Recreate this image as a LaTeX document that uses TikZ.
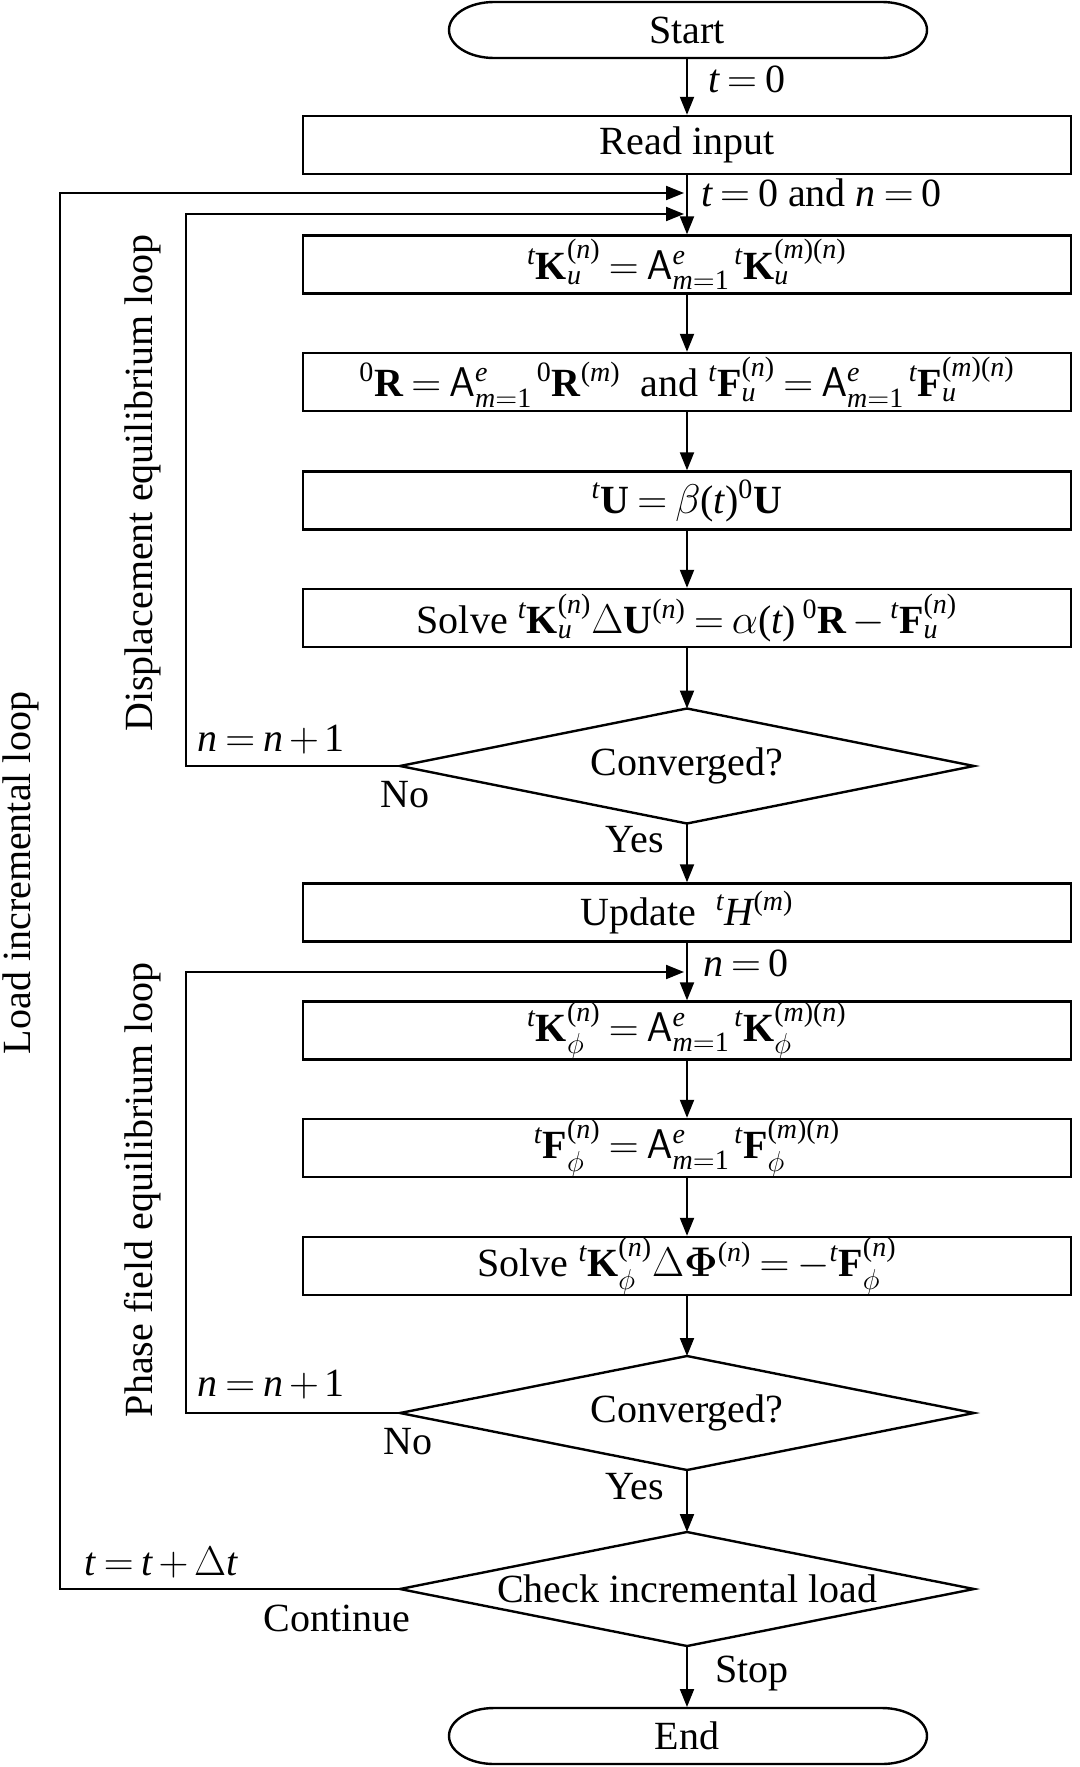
\documentclass[tikz,border=0pt]{standalone}
\usepackage{amsmath}
\usepackage[no-math]{fontspec}
\setmainfont[NFSSFamily=libser]{Liberation Serif}
\DeclareSymbolFont{tlet}{TU}{libser}{m}{it}
\DeclareSymbolFont{tupr}{TU}{libser}{m}{n}
\DeclareMathSymbol{t}{\mathalpha}{tlet}{`t}
\DeclareMathSymbol{n}{\mathalpha}{tlet}{`n}
\DeclareMathSymbol{m}{\mathalpha}{tlet}{`m}
\DeclareMathSymbol{e}{\mathalpha}{tlet}{`e}
\DeclareMathSymbol{u}{\mathalpha}{tlet}{`u}
\DeclareMathSymbol{H}{\mathalpha}{tlet}{`H}
\DeclareMathSymbol{0}{\mathalpha}{tupr}{`0}
\DeclareMathSymbol{1}{\mathalpha}{tupr}{`1}
\DeclareMathSymbol{(}{\mathopen}{tupr}{`(}
\DeclareMathSymbol{)}{\mathclose}{tupr}{`)}
\usetikzlibrary{arrows.meta}
\newcommand{\vK}{\textbf{K}}
\newcommand{\vF}{\textbf{F}}
\newcommand{\vR}{\textbf{R}}
\newcommand{\vU}{\textbf{U}}
\newcommand{\asm}{\mathsf{A}}
\newcommand{\pk}{\mkern2mu}
\newcommand{\tightmath}{\thickmuskip=3.5mu\relax\medmuskip=2.5mu\relax}
\begin{document}
\begin{tikzpicture}[x=0.5pt,y=-0.5pt,
  font=\fontsize{20}{24}\selectfont,
  execute at begin node=\tightmath,
  line width=1pt,
  arr/.style={-{Triangle[length=9pt,width=7pt]}},
  box/.style={draw, line width=1.2pt, minimum width=384pt, minimum height=29pt, inner sep=0pt},
  term/.style={minimum width=239pt, minimum height=28pt, inner sep=0pt},
  lbl/.style={inner sep=0pt},
  side/.style={rotate=90, inner sep=0pt}]
\useasboundingbox (0,0) rectangle (1080,1767);

% terminals
\node[term] (start) at (687,30) {Start};
\draw[line width=1.2pt] (494,2) -- (882,2) arc[start angle=90,end angle=-90,x radius=22.5pt,y radius=14pt]
  -- (494,58) arc[start angle=270,end angle=90,x radius=22.5pt,y radius=14pt] -- cycle;
\node[term] (end) at (687,1736) {End};
\draw[line width=1.2pt] (494,1708) -- (882,1708) arc[start angle=90,end angle=-90,x radius=22.5pt,y radius=14pt]
  -- (494,1764) arc[start angle=270,end angle=90,x radius=22.5pt,y radius=14pt] -- cycle;

% boxes
\node[box] (read) at (687,145) {Read input};
\node[box] (ku) at (687,264.5) {${}^{t}\vK_{u}^{(n)} = \asm_{m=1}^{e}\pk{}^{t}\vK_{u}^{(m)(n)}$};
\node[box] (rf) at (687,382) {${}^{0}\vR = \asm_{m=1}^{e}\pk{}^{0}\vR^{(m)}$\ \ and ${}^{t}\vF_{u}^{(n)} = \asm_{m=1}^{e}\pk{}^{t}\vF_{u}^{(m)(n)}$};
\node[box] (uu) at (687,500.5) {${}^{t}\vU = \beta(t)^{0}\vU$};
\node[box] (sol) at (687,618) {Solve ${}^{t}\vK_{u}^{(n)}\Delta\vU^{(n)} = \alpha(t)\,{}^{0}\vR - {}^{t}\vF_{u}^{(n)}$};
\node[box] (upd) at (687,912.5) {Update\ \ ${}^{t}H^{(m)}$};
\node[box] (kphi) at (687,1030.5) {${}^{t}\vK_{\phi}^{(n)} = \asm_{m=1}^{e}\pk{}^{t}\vK_{\phi}^{(m)(n)}$};
\node[box] (fphi) at (687,1148) {${}^{t}\vF_{\phi}^{(n)} = \asm_{m=1}^{e}\pk{}^{t}\vF_{\phi}^{(m)(n)}$};
\node[box] (solphi) at (687,1266) {Solve ${}^{t}\vK_{\phi}^{(n)}\Delta\mathbf{\Phi}^{(n)} = -{}^{t}\vF_{\phi}^{(n)}$};

% diamonds
\coordinate (d1n) at (687,708.5); \coordinate (d1s) at (687,823.5);
\coordinate (d1w) at (400,766);   \coordinate (d1e) at (974,766);
\draw[line width=1.2pt] (d1w) -- (d1n) -- (d1e) -- (d1s) -- cycle;
\node[lbl] (d1) at (687,766) {Converged?};

\coordinate (d2n) at (687,1356); \coordinate (d2s) at (687,1470);
\coordinate (d2w) at (400,1413); \coordinate (d2e) at (974,1413);
\draw[line width=1.2pt] (d2w) -- (d2n) -- (d2e) -- (d2s) -- cycle;
\node[lbl] (d2) at (687,1413) {Converged?};

\coordinate (d3n) at (687,1532); \coordinate (d3s) at (687,1646);
\coordinate (d3w) at (400,1589); \coordinate (d3e) at (974,1589);
\draw[line width=1.2pt] (d3w) -- (d3n) -- (d3e) -- (d3s) -- cycle;
\node[lbl] (d3) at (687,1589) {Check incremental load};

% main flow
\draw[arr] (start.south) -- (read.north);
\draw[arr] (read.south) -- (ku.north);
\draw[arr] (ku.south) -- (rf.north);
\draw[arr] (rf.south) -- (uu.north);
\draw[arr] (uu.south) -- (sol.north);
\draw[arr] (sol.south) -- (d1n);
\draw[arr] (d1s) -- (upd.north);
\draw[arr] (upd.south) -- (kphi.north);
\draw[arr] (kphi.south) -- (fphi.north);
\draw[arr] (fphi.south) -- (solphi.north);
\draw[arr] (solphi.south) -- (d2n);
\draw[arr] (d2s) -- (d3n);
\draw[arr] (d3s) -- (end.north);

% loops
\coordinate (ll) at (60,193);  \coordinate (llend) at (684,193);
\coordinate (dl) at (186,214); \coordinate (dlend) at (684,214);
\coordinate (pl) at (186,972); \coordinate (plend) at (684,972);
\draw[arr] (d1w) -| (dl) -- (dlend);
\draw[arr] (d2w) -| (pl) -- (plend);
\draw[arr] (d3w) -| (ll) -- (llend);

% labels
\node[lbl, anchor=west] (l1) at (707,79) {$t=0$};
\node[lbl, anchor=west] (l2) at (700,193) {$t=0$ and $n=0$};
\node[lbl, anchor=west] (l3) at (702,963) {$n=0$};
\node[lbl] (y1) at (635,840) {Yes};
\node[lbl] (y2) at (635,1487) {Yes};
\node[lbl] (n1) at (405,795) {No};
\node[lbl] (n2) at (408,1442) {No};
\node[lbl] (i1) at (271,740) {$n=n+1$};
\node[lbl] (i2) at (271,1385) {$n=n+1$};
\node[lbl] (tt) at (161,1563) {$t=t+\Delta t$};
\node[lbl] (cont) at (337,1618) {Continue};
\node[lbl] (stop) at (752,1673) {Stop};

% side labels
\node[side] (s1) at (21,873) {Load incremental loop};
\node[side] (s2) at (143,483) {Displacement equilibrium loop};
\node[side] (s3) at (143,1190) {Phase field equilibrium loop};
\end{tikzpicture}
\end{document}
